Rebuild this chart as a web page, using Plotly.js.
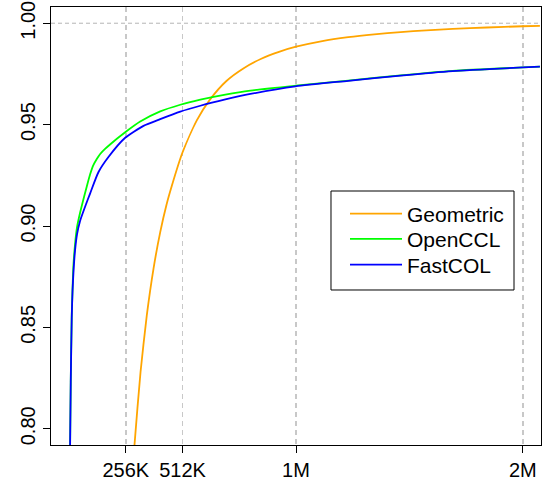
<!DOCTYPE html>
<html>
<head>
<meta charset="utf-8">
<script src="https://cdn.plot.ly/plotly-3.0.1.min.js"></script>
<style>html,body{margin:0;padding:0;background:#fff;}#chart{width:545px;height:480px;}</style>
</head>
<body>
<div id="chart"></div>
<script>
// Series names
const seriesNames = ["Geometric", "OpenCCL", "FastCOL"];

// Geometric
const geometricX = [290000, 302000, 330000, 359000, 390000, 421000, 450000, 475000, 523000, 590000, 650000, 727000, 807000, 888000, 970000, 1049000, 1170000, 1290000, 1410000, 1532000, 1650000, 1773000, 1930000, 2096000, 2176000];
const geometricY = [0.773, 0.792, 0.828, 0.856, 0.879, 0.897, 0.9105, 0.920, 0.936, 0.9521, 0.9622, 0.9715, 0.9778, 0.9825, 0.9859, 0.9884, 0.9912, 0.9931, 0.9945, 0.9956, 0.9965, 0.9972, 0.9979, 0.9985, 0.9987];

// OpenCCL
const openCCLX = [4000, 7400, 12000, 15700, 19500, 27300, 36600, 50500, 81500, 97000, 112000, 127700, 143400, 166000, 189000, 259000, 328400, 421000, 513600, 606200, 722100, 837800, 1046300, 1290000, 1532000, 1773000, 2176000];
const openCCLY = [0.788, 0.823, 0.856, 0.869, 0.880, 0.891, 0.8995, 0.9065, 0.9195, 0.9255, 0.9300, 0.9330, 0.9355, 0.9380, 0.9402, 0.9462, 0.9515, 0.9565, 0.9598, 0.9623, 0.9648, 0.9668, 0.9692, 0.9717, 0.9743, 0.9765, 0.9786];

// FastCOL
const fastCOLX = [4000, 7400, 12000, 15700, 20400, 27300, 36600, 50500, 73600, 96700, 135200, 181600, 259000, 343700, 421000, 513600, 606200, 722100, 837800, 1046300, 1290000, 1532000, 1773000, 2176000];
const fastCOLY = [0.788, 0.823, 0.855, 0.868, 0.878, 0.888, 0.896, 0.9025, 0.9095, 0.9160, 0.9265, 0.9340, 0.9435, 0.9494, 0.9527, 0.9564, 0.9593, 0.9624, 0.9651, 0.9689, 0.9716, 0.9742, 0.9764, 0.9786];

// Axis ticks
const xTickVals = [262144, 524288, 1048576, 2097152];
const xTickText = ["256K", "512K", "1M", "2M"];
const yTickVals = [0.80, 0.85, 0.90, 0.95, 1.00];
const yTickText = ["0.80", "0.85", "0.90", "0.95", "1.00"];
const referenceLevel = [1.0];

const xMax = 2097152;
const xRange = [-0.04 * xMax, 1.04 * xMax];
const yRange = [0.792, 1.008];

const FONT = "Liberation Sans, Arial, Helvetica, sans-serif";

const lineStyle = (c) => ({color: c, width: 1.8, shape: "spline", smoothing: 0.6});

const traces = [
  {x: geometricX, y: geometricY, name: seriesNames[0], mode: "lines", line: lineStyle("#FFA500"), legend: "legend"},
  {x: openCCLX, y: openCCLY, name: seriesNames[1], mode: "lines", line: lineStyle("#00FF00"), legend: "legend2"},
  {x: fastCOLX, y: fastCOLY, name: seriesNames[2], mode: "lines", line: lineStyle("#0000FF"), legend: "legend3"}
];

function legendAt(yc) {
  return {x: 0.60, xanchor: "left", y: yc, yanchor: "middle", bgcolor: "rgba(0,0,0,0)", borderwidth: 0,
          font: {family: FONT, size: 21, color: "#000"}, itemwidth: 52};
}

const layout = {
  width: 545, height: 480,
  margin: {l: 51, r: 4, t: 7, b: 35},
  paper_bgcolor: "#fff", plot_bgcolor: "#fff",
  showlegend: true,
  xaxis: {
    range: xRange, tickvals: xTickVals, ticktext: xTickText,
    ticks: "outside", ticklen: 7, tickcolor: "#000", tickwidth: 1,
    showline: true, mirror: true, linecolor: "#000", linewidth: 1,
    showgrid: true, gridcolor: "#c8c8c8", gridwidth: 1.6, griddash: "5px,4px",
    zeroline: false, tickfont: {family: FONT, size: 20, color: "#000"}
  },
  yaxis: {
    range: yRange, tickvals: yTickVals, ticktext: yTickText, tickangle: -90,
    ticks: "outside", ticklen: 7, tickcolor: "#000", tickwidth: 1,
    showline: true, mirror: true, linecolor: "#000", linewidth: 1,
    showgrid: false, zeroline: false, tickfont: {family: FONT, size: 20, color: "#000"}
  },
  legend: legendAt(0.5274),
  legend2: legendAt(0.4696),
  legend3: legendAt(0.411),
  shapes: [
    {type: "line", xref: "paper", x0: 0, x1: 1, yref: "y", y0: referenceLevel[0], y1: referenceLevel[0],
     line: {color: "#b4b4b4", width: 1, dash: "4px,3px"}, layer: "below"},
    {type: "rect", xref: "paper", yref: "paper", x0: 0.5714, x1: 0.9449, y0: 0.3539, y1: 0.5799,
     line: {color: "#000", width: 1}, fillcolor: "#fff", layer: "above"}
  ]
};

Plotly.newPlot("chart", traces, layout, {displayModeBar: false, staticPlot: true});
</script>
</body>
</html>
